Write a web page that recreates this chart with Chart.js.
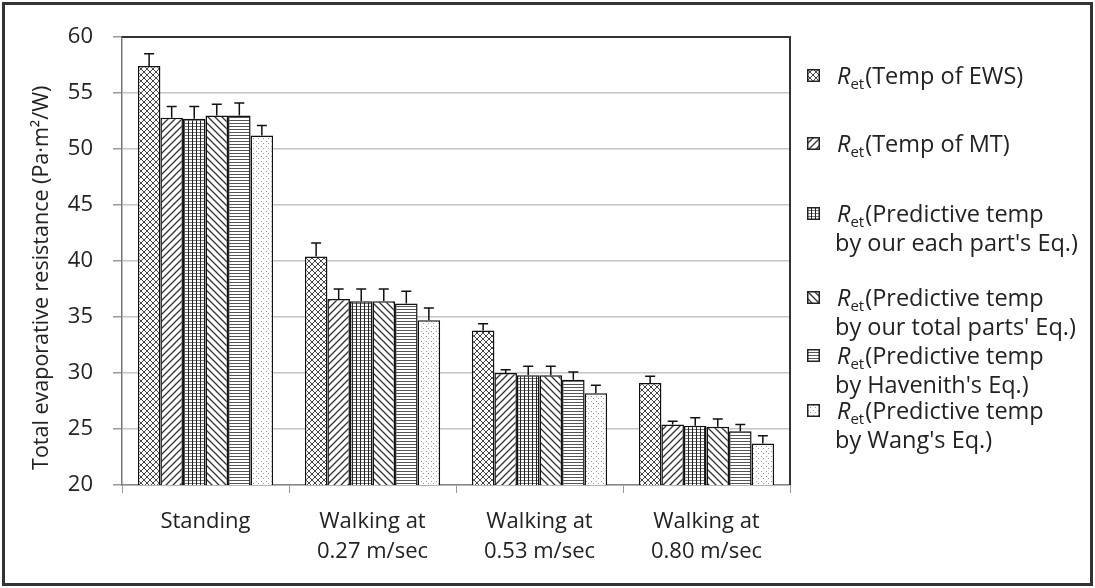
<!DOCTYPE html>
<html>
<head>
<meta charset="utf-8">
<script src="https://cdn.jsdelivr.net/npm/chart.js@4.4.0/dist/chart.umd.min.js"></script>
<style>
  body { margin: 0; background: #fff; }
  #wrap { position: relative; width: 1095px; height: 588px; overflow: hidden; }
  #c { position: absolute; left: 0; top: 0; }
  #frame { position: absolute; left: 2px; top: 2px; width: 1085px; height: 578px; border: 3px solid #333; pointer-events: none; }
  #legend { position: absolute; left: 807px; top: 0; font-family: "Open Sans", sans-serif; font-size: 23.5px; color: #222; }
  .item { position: absolute; left: 0; white-space: nowrap; line-height: 29px; }
  .item canvas { vertical-align: middle; margin-right: 17px; position: relative; top: -2px; }
  .item i { font-style: italic; }
  .item sub { font-size: 15px; vertical-align: -5px; line-height: 0; margin-right: 1px; }
  .item .l2 { padding-left: 28px; }
</style>
</head>
<body>
<div id="wrap">
  <canvas id="c" width="1095" height="588"></canvas>
  <div id="legend"></div>
  <div id="frame"></div>
</div>
<script>
// data
const categories = [["Standing"], ["Walking at", "0.27 m/sec"], ["Walking at", "0.53 m/sec"], ["Walking at", "0.80 m/sec"]];
const seriesNames = ["Temp of EWS", "Temp of MT", "Predictive temp|by our each part's Eq.", "Predictive temp|by our total parts' Eq.", "Predictive temp|by Havenith's Eq.", "Predictive temp|by Wang's Eq."];
const ews = [57.4, 40.4, 33.8, 29.1];
const ewsErr = [1.1, 1.2, 0.6, 0.6];
const mt = [52.8, 36.6, 30.0, 25.4];
const mtErr = [1.0, 0.9, 0.3, 0.3];
const eachPart = [52.7, 36.4, 29.8, 25.3];
const eachPartErr = [1.1, 1.1, 0.8, 0.7];
const totalParts = [53.0, 36.4, 29.8, 25.2];
const totalPartsErr = [1.0, 1.1, 0.8, 0.7];
const havenith = [53.0, 36.2, 29.4, 24.8];
const havenithErr = [1.1, 1.1, 0.7, 0.6];
const wang = [51.2, 34.7, 28.2, 23.7];
const wangErr = [0.9, 1.1, 0.7, 0.7];
const yTicks = [20, 25, 30, 35, 40, 45, 50, 55, 60];

const FONT = "'Open Sans', sans-serif";

function makePattern(kind) {
  const t = document.createElement("canvas");
  const g = t.getContext("2d");
  let w = 6, h = 6;
  if (kind === "diag" || kind === "back") { w = 7; h = 7; }
  if (kind === "grid") { w = 4; h = 3; }
  if (kind === "hline") { w = 4; h = 3; }
  if (kind === "dots") { w = 5; h = 5; }
  t.width = w; t.height = h;
  g.fillStyle = "#fff";
  g.fillRect(0, 0, w, h);
  g.strokeStyle = "#333";
  g.lineWidth = 1;
  if (kind === "cross") {
    g.strokeStyle = "#444";
    g.beginPath();
    g.moveTo(0, 0); g.lineTo(w, h);
    g.moveTo(w, 0); g.lineTo(0, h);
    g.stroke();
  } else if (kind === "diag") {
    g.lineWidth = 1.3;
    g.beginPath();
    g.moveTo(-1, h + 1); g.lineTo(w + 1, -1);
    g.moveTo(-1, 1); g.lineTo(1, -1);
    g.moveTo(w - 1, h + 1); g.lineTo(w + 1, h - 1);
    g.stroke();
  } else if (kind === "back") {
    g.lineWidth = 1.3;
    g.beginPath();
    g.moveTo(-1, -1); g.lineTo(w + 1, h + 1);
    g.moveTo(w - 1, -1); g.lineTo(w + 1, 1);
    g.moveTo(-1, h - 1); g.lineTo(1, h + 1);
    g.stroke();
  } else if (kind === "grid") {
    g.fillStyle = "#777";
    g.fillRect(0, 0, w, 1);
    g.fillStyle = "#222";
    g.fillRect(0, 0, 1, h);
  } else if (kind === "hline") {
    g.fillStyle = "#555";
    g.fillRect(0, 0, w, 1);
  } else if (kind === "dots") {
    g.fillStyle = "#999";
    g.fillRect(1, 1, 1, 1);
    g.fillRect(3, 3, 1, 1);
  }
  return g.createPattern(t, "repeat");
}

const kinds = ["cross", "diag", "grid", "back", "hline", "dots"];
const values = [ews, mt, eachPart, totalParts, havenith, wang];
const errors = [ewsErr, mtErr, eachPartErr, totalPartsErr, havenithErr, wangErr];
const patterns = kinds.map(makePattern);

// legend in HTML
const legendTops = [75, 143, 213, 297, 355, 410];
const legend = document.getElementById("legend");
seriesNames.forEach((name, i) => {
  const parts = name.split("|");
  const div = document.createElement("div");
  div.className = "item";
  div.style.top = (legendTops[i] - 14.5) + "px";
  const sw = document.createElement("canvas");
  sw.width = 13; sw.height = 13;
  const sg = sw.getContext("2d");
  sg.fillStyle = patterns[i];
  sg.fillRect(0, 0, 13, 13);
  sg.strokeStyle = "#222";
  sg.lineWidth = 1.5;
  sg.strokeRect(0.75, 0.75, 11.5, 11.5);
  div.appendChild(sw);
  const span = document.createElement("span");
  span.innerHTML = "<i>R</i><sub>et</sub>(" + parts[0] + (parts.length > 1 ? "" : ")");
  div.appendChild(span);
  if (parts.length > 1) {
    const l2 = document.createElement("div");
    l2.className = "l2";
    l2.textContent = parts[1] + ")";
    div.appendChild(l2);
  }
  legend.appendChild(div);
});

const errorBars = {
  id: "errorBars",
  afterDatasetsDraw(chart) {
    const ctx = chart.ctx;
    const y = chart.scales.y;
    ctx.save();
    ctx.strokeStyle = "#111";
    ctx.lineWidth = 1.5;
    chart.data.datasets.forEach((ds, di) => {
      const meta = chart.getDatasetMeta(di);
      meta.data.forEach((bar, i) => {
        const top = y.getPixelForValue(ds.data[i] + errors[di][i]);
        ctx.beginPath();
        ctx.moveTo(bar.x, bar.y);
        ctx.lineTo(bar.x, top);
        ctx.moveTo(bar.x - 5, top);
        ctx.lineTo(bar.x + 5, top);
        ctx.stroke();
      });
    });
    ctx.restore();
  }
};

const plotBox = {
  id: "plotBox",
  afterDraw(chart) {
    const a = chart.chartArea;
    const ctx = chart.ctx;
    ctx.save();
    ctx.strokeStyle = "#333";
    ctx.lineWidth = 2;
    ctx.beginPath();
    ctx.moveTo(a.left, a.top);
    ctx.lineTo(a.right, a.top);
    ctx.lineTo(a.right, a.bottom);
    ctx.stroke();
    ctx.restore();
  }
};

new Chart(document.getElementById("c"), {
  type: "bar",
  data: {
    labels: categories,
    datasets: values.map((v, i) => ({
      label: seriesNames[i].replace("|", " "),
      data: v,
      backgroundColor: patterns[i],
      borderColor: "#111",
      borderWidth: 1.5,
      barPercentage: 1.0,
      categoryPercentage: 0.81
    }))
  },
  options: {
    responsive: false,
    animation: false,
    layout: { padding: { top: 37, right: 305, left: 0, bottom: 0 } },
    plugins: { legend: { display: false }, tooltip: { enabled: false } },
    scales: {
      x: {
        afterFit(s) { s.height = 103; },
        grid: { drawOnChartArea: false, drawTicks: true, tickLength: 8, color: "#999", offset: true },
        border: { color: "#888", width: 1.5 },
        ticks: { color: "#222", font: { family: FONT, size: 22, lineHeight: 1.4 }, padding: 13, maxRotation: 0 }
      },
      y: {
        min: 20,
        max: 60,
        afterBuildTicks(s) { s.ticks = yTicks.map(v => ({ value: v })); },
        afterFit(s) { s.width = 122; },
        grid: { color: "#c4c4c4", lineWidth: 1.5, tickLength: 9, tickColor: "#999" },
        border: { color: "#777", width: 1.5 },
        ticks: { color: "#222", font: { family: FONT, size: 22 }, padding: 20 },
        title: { display: true, text: "Total evaporative resistance (Pa\u00b7m\u00b2/W)      ", color: "#222", font: { family: FONT, size: 21.5 }, padding: { top: 29, bottom: 0 } }
      }
    }
  },
  plugins: [errorBars, plotBox]
});
</script>
</body>
</html>
